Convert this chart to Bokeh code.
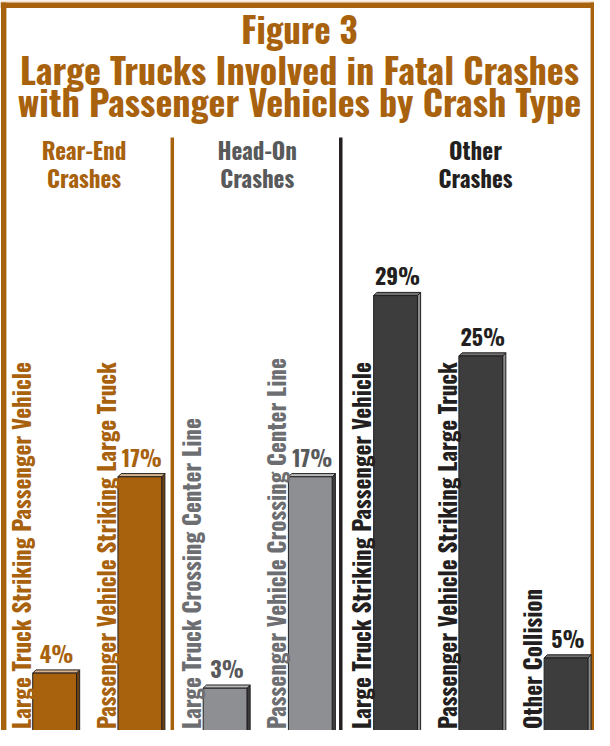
import math
from bokeh.plotting import figure
from bokeh.models import Range1d, ColumnDataSource
from bokeh.core.properties import value
from bokeh.embed import file_html
from bokeh.resources import INLINE

# ---------------- data ----------------
groups = ["Rear-End\nCrashes", "Head-On\nCrashes", "Other\nCrashes"]
categories = [
    "Large Truck Striking Passenger Vehicle",
    "Passenger Vehicle Striking Large Truck",
    "Large Truck Crossing Center Line",
    "Passenger Vehicle Crossing Center Line",
    "Large Truck Striking Passenger Vehicle",
    "Passenger Vehicle Striking Large Truck",
    "Other Collision",
]
category_group = [0, 0, 1, 1, 2, 2, 2]
percents = [4, 17, 3, 17, 29, 25, 5]
title_lines = ["Figure 3", "Large Trucks Involved in Fatal Crashes",
               "with Passenger Vehicles by Crash Type"]

# ---------------- styling ----------------
FONT = "Oswald"
BSHIFT = 0.42  # em correction between anchor and glyph baseline
BROWN = "#A8620E"
BEIGE = "#F3E6D7"
OUTLINE = "#231F20"
group_fill = ["#A8620E", "#8E8F92", "#3D3D3E"]
group_topface = ["#D8B48C", "#B9BABC", "#707071"]
group_sideface = ["#6E4210", "#3E3E40", "#8C8C8E"]
group_text = ["#A8620E", "#58595B", "#231F20"]
label_text = ["#A8620E", "#6D6E71", "#231F20"]

W, H = 594, 730
XSCALE = 594.0 / 604.0
UNIT = 86.67 * XSCALE
X0 = (60 - 5) * XSCALE


def ux(ref):
    return ((ref - 5) * XSCALE - X0) / UNIT


PXPCT = 15.1
BASE_FIG = 733.0


def uy(ref):
    return (BASE_FIG - (ref - 8)) / PXPCT


p = figure(width=W, height=H, output_backend="svg", toolbar_location=None,
           x_range=Range1d(ux(5), ux(609)), y_range=Range1d(uy(738), uy(8)),
           min_border=0, background_fill_color="white",
           border_fill_color="white", outline_line_color=None)
p.axis.visible = False
p.grid.visible = False

# frame
p.quad(left=[ux(0)], right=[ux(615)], bottom=[uy(10)], top=[uy(0)],
       fill_color=BEIGE, line_color=None)
p.quad(left=[ux(5)], right=[ux(610)], bottom=[uy(15.5)], top=[uy(10)],
       fill_color=BROWN, line_color=None)
p.quad(left=[ux(5.5)], right=[ux(11)], bottom=[uy(760)], top=[uy(10)],
       fill_color=BROWN, line_color=None)
p.quad(left=[ux(605)], right=[ux(609.5)], bottom=[uy(760)], top=[uy(10)],
       fill_color=BROWN, line_color=None)

# group separators
p.segment(x0=[ux(179.7)], x1=[ux(179.7)], y0=[uy(145)], y1=[uy(760)],
          line_color=BROWN, line_width=3.5)
p.segment(x0=[ux(351)], x1=[ux(351)], y0=[uy(145)], y1=[uy(760)],
          line_color=OUTLINE, line_width=3.5)

# title
title_base = [50, 91, 123]
title_size = [35, 36, 36]
for line, b, s in zip(title_lines, title_base, title_size):
    p.text(x=[ux(309)], y=[uy(b)], text=[line], text_font=value(FONT),
           y_offset=-BSHIFT * s,
           text_font_style="bold", text_font_size=f"{s}px", text_color=BROWN,
           text_align="center", text_baseline="alphabetic")

# group headers
HS = 23
header_x = [90, 266, 488]
for gi, g in enumerate(groups):
    for li, part in enumerate(g.split("\n")):
        p.text(x=[ux(header_x[gi])], y=[uy([167, 195][li])], text=[part],
               y_offset=-BSHIFT * HS,
               text_font=value(FONT), text_font_style="bold",
               text_font_size=f"{HS}px", text_color=group_text[gi],
               text_align="center", text_baseline="alphabetic")

# bars
n = len(percents)
xs = list(range(n))
bw = 44.5 * XSCALE / UNIT
dx = 3.2 / UNIT
dy = 3.2 / PXPCT
bottom = uy(760)
LS = 23  # rotated label size
VS = 22  # value label size
src = ColumnDataSource(dict(
    x=xs, top=percents,
    fill=[group_fill[g] for g in category_group],
    topc=[group_topface[g] for g in category_group],
    sidec=[group_sideface[g] for g in category_group],
    vcol=[group_text[g] for g in category_group],
    lcol=[label_text[g] for g in category_group],
    lbl=[f"{v}%" for v in percents],
    cat=categories,
    lx=[x - bw / 2 - (2.5 + BSHIFT * LS) / UNIT for x in xs],
    txs=[[x - bw / 2, x - bw / 2 + dx, x + bw / 2 + dx, x + bw / 2] for x in xs],
    tys=[[v, v + dy, v + dy, v] for v in percents],
    sxs=[[x + bw / 2, x + bw / 2 + dx, x + bw / 2 + dx, x + bw / 2] for x in xs],
    sys=[[v, v + dy, bottom, bottom] for v in percents],
))

p.patches(xs="sxs", ys="sys", source=src, fill_color="sidec",
          line_color=OUTLINE, line_width=1)
p.patches(xs="txs", ys="tys", source=src, fill_color="topc",
          line_color=OUTLINE, line_width=1)
p.vbar(x="x", top="top", bottom=bottom, width=bw, source=src,
       fill_color="fill", line_color=OUTLINE, line_width=1)

# value labels
p.text(x="x", y="top", text="lbl", source=src, x_offset=2,
       y_offset=-(11 + BSHIFT * VS),
       text_font=value(FONT), text_font_style="bold", text_font_size=f"{VS}px",
       text_color="vcol", text_align="center", text_baseline="alphabetic")

# rotated category labels
p.text(x="lx", y=uy(736.5), text="cat", source=src,
       angle=math.pi / 2, text_font=value(FONT), text_font_style="bold",
       text_font_size=f"{LS}px", text_color="lcol", text_align="left",
       text_baseline="alphabetic")

open("out.html", "w").write(file_html(p, INLINE))
